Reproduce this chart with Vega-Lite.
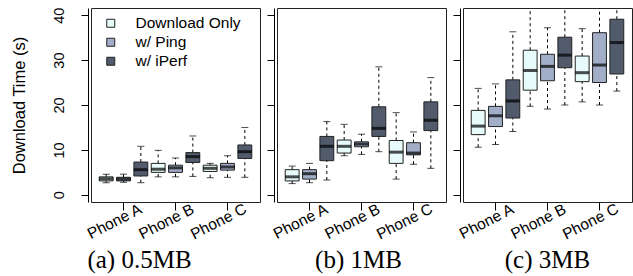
{
  "$schema": "https://vega.github.io/schema/vega-lite/v6.json",
  "background": "white",
  "padding": {"left": 10, "top": 6, "right": 0, "bottom": 0},
  "bounds": "flush",
  "spacing": 17,
  "data": {"values": [
    {"size": "0.5MB", "phone": "Phone A", "type": "Download Only", "lo": 2.7, "q1": 3.1, "med": 3.6, "q3": 4.0, "hi": 4.6},
    {"size": "0.5MB", "phone": "Phone A", "type": "w/ Ping", "lo": 2.8, "q1": 3.1, "med": 3.5, "q3": 3.9, "hi": 4.6},
    {"size": "0.5MB", "phone": "Phone A", "type": "w/ iPerf", "lo": 2.7, "q1": 4.2, "med": 5.6, "q3": 7.3, "hi": 10.8},
    {"size": "0.5MB", "phone": "Phone B", "type": "Download Only", "lo": 4.0, "q1": 5.0, "med": 5.7, "q3": 7.0, "hi": 9.9},
    {"size": "0.5MB", "phone": "Phone B", "type": "w/ Ping", "lo": 4.0, "q1": 5.0, "med": 6.0, "q3": 6.6, "hi": 8.2},
    {"size": "0.5MB", "phone": "Phone B", "type": "w/ iPerf", "lo": 4.1, "q1": 7.2, "med": 8.5, "q3": 9.4, "hi": 13.1},
    {"size": "0.5MB", "phone": "Phone C", "type": "Download Only", "lo": 3.8, "q1": 5.2, "med": 5.9, "q3": 6.6, "hi": 7.0},
    {"size": "0.5MB", "phone": "Phone C", "type": "w/ Ping", "lo": 3.9, "q1": 5.5, "med": 6.2, "q3": 7.0, "hi": 8.7},
    {"size": "0.5MB", "phone": "Phone C", "type": "w/ iPerf", "lo": 3.9, "q1": 8.1, "med": 9.6, "q3": 11.1, "hi": 15.0},
    {"size": "1MB", "phone": "Phone A", "type": "Download Only", "lo": 2.5, "q1": 3.1, "med": 4.0, "q3": 5.6, "hi": 6.4},
    {"size": "1MB", "phone": "Phone A", "type": "w/ Ping", "lo": 2.7, "q1": 3.5, "med": 4.7, "q3": 5.6, "hi": 7.0},
    {"size": "1MB", "phone": "Phone A", "type": "w/ iPerf", "lo": 3.3, "q1": 7.6, "med": 10.8, "q3": 13.0, "hi": 16.3},
    {"size": "1MB", "phone": "Phone B", "type": "Download Only", "lo": 8.7, "q1": 9.3, "med": 10.8, "q3": 12.2, "hi": 15.7},
    {"size": "1MB", "phone": "Phone B", "type": "w/ Ping", "lo": 9.0, "q1": 10.7, "med": 11.3, "q3": 11.8, "hi": 13.5},
    {"size": "1MB", "phone": "Phone B", "type": "w/ iPerf", "lo": 9.6, "q1": 13.0, "med": 14.8, "q3": 19.6, "hi": 28.5},
    {"size": "1MB", "phone": "Phone C", "type": "Download Only", "lo": 3.5, "q1": 7.0, "med": 9.5, "q3": 12.1, "hi": 18.3},
    {"size": "1MB", "phone": "Phone C", "type": "w/ Ping", "lo": 6.8, "q1": 8.9, "med": 9.3, "q3": 11.6, "hi": 14.0},
    {"size": "1MB", "phone": "Phone C", "type": "w/ iPerf", "lo": 5.9, "q1": 14.3, "med": 16.6, "q3": 20.7, "hi": 26.1},
    {"size": "3MB", "phone": "Phone A", "type": "Download Only", "lo": 10.6, "q1": 13.4, "med": 15.3, "q3": 18.8, "hi": 23.7},
    {"size": "3MB", "phone": "Phone A", "type": "w/ Ping", "lo": 11.2, "q1": 15.2, "med": 17.6, "q3": 19.7, "hi": 24.7},
    {"size": "3MB", "phone": "Phone A", "type": "w/ iPerf", "lo": 14.1, "q1": 17.1, "med": 20.9, "q3": 25.6, "hi": 36.3},
    {"size": "3MB", "phone": "Phone B", "type": "Download Only", "lo": 19.7, "q1": 23.3, "med": 27.7, "q3": 32.2, "hi": 45},
    {"size": "3MB", "phone": "Phone B", "type": "w/ Ping", "lo": 19.1, "q1": 25.4, "med": 28.6, "q3": 31.3, "hi": 37.2},
    {"size": "3MB", "phone": "Phone B", "type": "w/ iPerf", "lo": 20.0, "q1": 28.3, "med": 31.1, "q3": 35.1, "hi": 45},
    {"size": "3MB", "phone": "Phone C", "type": "Download Only", "lo": 20.7, "q1": 25.2, "med": 27.2, "q3": 30.9, "hi": 37.0},
    {"size": "3MB", "phone": "Phone C", "type": "w/ Ping", "lo": 20.0, "q1": 25.0, "med": 28.9, "q3": 36.1, "hi": 45},
    {"size": "3MB", "phone": "Phone C", "type": "w/ iPerf", "lo": 23.1, "q1": 26.9, "med": 33.9, "q3": 39.1, "hi": 45}
  ]},
  "config": {
    "view": {"stroke": "#222", "strokeWidth": 1},
    "font": "Liberation Sans",
    "axis": {"grid": false, "tickColor": "black", "domainColor": "black", "labelColor": "black", "titleColor": "black", "labelFont": "Liberation Sans", "titleFont": "Liberation Sans", "titleFontWeight": "normal"},
    "axisY": {"values": [0, 10, 20, 30, 40], "tickSize": 7, "offset": 3, "titleFontSize": 16.5, "titlePadding": 24, "labelFontSize": 14.5, "labelAngle": -90, "labelAlign": "center", "labelBaseline": "bottom", "labelPadding": 15},
    "axisX": {"title": null, "labelAngle": -27, "labelAlign": "center", "labelBaseline": "middle", "labelOffset": -9, "labelPadding": 11, "tickSize": 8, "domain": false, "labelFontSize": 15.5, "labelOverlap": false, "labelBound": false},
    "title": {"font": "Liberation Serif", "fontSize": 25, "fontWeight": "normal", "color": "black", "frame": "group"}
  },
  "resolve": {"scale": {"color": "independent"}, "legend": {"color": "independent"}},
  "hconcat": [
    {
      "width": 169, "height": 194,
      "transform": [{"filter": "datum.size === '0.5MB'"}],
      "title": {"text": "(a) 0.5MB", "orient": "bottom", "dx": -36, "offset": 6},
      "encoding": {
        "x": {"field": "phone", "type": "nominal", "sort": ["Phone A", "Phone B", "Phone C"], "scale": {"paddingInner": 0, "paddingOuter": 0.125}, "axis": {"title": null}},
        "xOffset": {"field": "type", "type": "nominal", "sort": ["Download Only", "w/ Ping", "w/ iPerf"], "scale": {"paddingInner": 0.2, "paddingOuter": 0.1}}
      },
      "layer": [
        {"mark": {"type": "rule", "strokeDash": [3, 3], "color": "black", "clip": true},
         "encoding": {"y": {"field": "lo", "type": "quantitative", "scale": {"domain": [-1.6, 41.6], "nice": false, "zero": false}, "axis": {"title": "Download Time (s)"}},
           "y2": {"field": "q1"}}},
        {"mark": {"type": "rule", "strokeDash": [3, 3], "color": "black", "clip": true},
         "encoding": {"y": {"field": "q3", "type": "quantitative", "axis": {"title": "Download Time (s)"}}, "y2": {"field": "hi"}}},
        {"mark": {"type": "tick", "size": 7, "thickness": 1, "color": "black", "clip": true},
         "encoding": {"y": {"field": "lo", "type": "quantitative", "axis": {"title": "Download Time (s)"}}}},
        {"mark": {"type": "tick", "size": 7, "thickness": 1, "color": "black", "clip": true},
         "encoding": {"y": {"field": "hi", "type": "quantitative", "axis": {"title": "Download Time (s)"}}}},
        {"mark": {"type": "bar", "stroke": "#222", "strokeWidth": 1, "clip": true},
         "encoding": {"y": {"field": "q1", "type": "quantitative", "axis": {"title": "Download Time (s)"}}, "y2": {"field": "q3"},
           "color": {"field": "type", "type": "nominal", "scale": {"domain": ["Download Only", "w/ Ping", "w/ iPerf"], "range": ["#e6fbfa", "#a2aec8", "#515b6c"]},
             "legend": {"title": null, "orient": "none", "legendX": 12, "legendY": 7.5, "symbolType": "square", "symbolSize": 64, "symbolStrokeColor": "#222", "symbolStrokeWidth": 1, "symbolOpacity": 1, "labelFontSize": 15.5, "labelColor": "black", "labelFont": "Liberation Sans", "rowPadding": 2, "labelOffset": 17, "padding": 0}}}},
        {"mark": {"type": "tick", "size": 14, "thickness": 3, "color": "black", "clip": true},
         "encoding": {"y": {"field": "med", "type": "quantitative", "axis": {"title": "Download Time (s)"}}}}
      ]
    },
    {
      "width": 169, "height": 194,
      "transform": [{"filter": "datum.size === '1MB'"}],
      "title": {"text": "(b) 1MB", "orient": "bottom", "dx": -3, "offset": 6},
      "encoding": {
        "x": {"field": "phone", "type": "nominal", "sort": ["Phone A", "Phone B", "Phone C"], "scale": {"paddingInner": 0, "paddingOuter": 0.125}, "axis": {"title": null}},
        "xOffset": {"field": "type", "type": "nominal", "sort": ["Download Only", "w/ Ping", "w/ iPerf"], "scale": {"paddingInner": 0.2, "paddingOuter": 0.1}}
      },
      "layer": [
        {"mark": {"type": "rule", "strokeDash": [3, 3], "color": "black", "clip": true},
         "encoding": {"y": {"field": "lo", "type": "quantitative", "scale": {"domain": [-1.6, 41.6], "nice": false, "zero": false}, "axis": {"title": null, "labels": false}},
           "y2": {"field": "q1"}}},
        {"mark": {"type": "rule", "strokeDash": [3, 3], "color": "black", "clip": true},
         "encoding": {"y": {"field": "q3", "type": "quantitative", "axis": {"title": null, "labels": false}}, "y2": {"field": "hi"}}},
        {"mark": {"type": "tick", "size": 7, "thickness": 1, "color": "black", "clip": true},
         "encoding": {"y": {"field": "lo", "type": "quantitative", "axis": {"title": null, "labels": false}}}},
        {"mark": {"type": "tick", "size": 7, "thickness": 1, "color": "black", "clip": true},
         "encoding": {"y": {"field": "hi", "type": "quantitative", "axis": {"title": null, "labels": false}}}},
        {"mark": {"type": "bar", "stroke": "#222", "strokeWidth": 1, "clip": true},
         "encoding": {"y": {"field": "q1", "type": "quantitative", "axis": {"title": null, "labels": false}}, "y2": {"field": "q3"},
           "color": {"field": "type", "type": "nominal", "scale": {"domain": ["Download Only", "w/ Ping", "w/ iPerf"], "range": ["#e6fbfa", "#a2aec8", "#515b6c"]}, "legend": null}}},
        {"mark": {"type": "tick", "size": 14, "thickness": 3, "color": "black", "clip": true},
         "encoding": {"y": {"field": "med", "type": "quantitative", "axis": {"title": null, "labels": false}}}}
      ]
    },
    {
      "width": 169, "height": 194,
      "transform": [{"filter": "datum.size === '3MB'"}],
      "title": {"text": "(c) 3MB", "orient": "bottom", "dx": 0, "offset": 6},
      "encoding": {
        "x": {"field": "phone", "type": "nominal", "sort": ["Phone A", "Phone B", "Phone C"], "scale": {"paddingInner": 0, "paddingOuter": 0.125}, "axis": {"title": null}},
        "xOffset": {"field": "type", "type": "nominal", "sort": ["Download Only", "w/ Ping", "w/ iPerf"], "scale": {"paddingInner": 0.2, "paddingOuter": 0.1}}
      },
      "layer": [
        {"mark": {"type": "rule", "strokeDash": [3, 3], "color": "black", "clip": true},
         "encoding": {"y": {"field": "lo", "type": "quantitative", "scale": {"domain": [-1.6, 41.6], "nice": false, "zero": false}, "axis": {"title": null, "labels": false}},
           "y2": {"field": "q1"}}},
        {"mark": {"type": "rule", "strokeDash": [3, 3], "color": "black", "clip": true},
         "encoding": {"y": {"field": "q3", "type": "quantitative", "axis": {"title": null, "labels": false}}, "y2": {"field": "hi"}}},
        {"mark": {"type": "tick", "size": 7, "thickness": 1, "color": "black", "clip": true},
         "encoding": {"y": {"field": "lo", "type": "quantitative", "axis": {"title": null, "labels": false}}}},
        {"mark": {"type": "tick", "size": 7, "thickness": 1, "color": "black", "clip": true},
         "encoding": {"y": {"field": "hi", "type": "quantitative", "axis": {"title": null, "labels": false}}}},
        {"mark": {"type": "bar", "stroke": "#222", "strokeWidth": 1, "clip": true},
         "encoding": {"y": {"field": "q1", "type": "quantitative", "axis": {"title": null, "labels": false}}, "y2": {"field": "q3"},
           "color": {"field": "type", "type": "nominal", "scale": {"domain": ["Download Only", "w/ Ping", "w/ iPerf"], "range": ["#e6fbfa", "#a2aec8", "#515b6c"]}, "legend": null}}},
        {"mark": {"type": "tick", "size": 14, "thickness": 3, "color": "black", "clip": true},
         "encoding": {"y": {"field": "med", "type": "quantitative", "axis": {"title": null, "labels": false}}}}
      ]
    }
  ]
}
